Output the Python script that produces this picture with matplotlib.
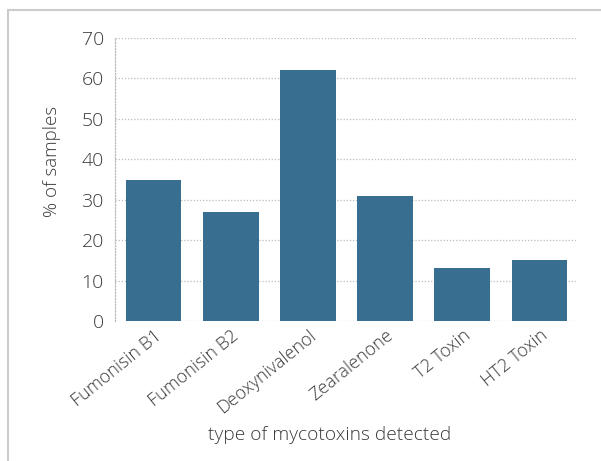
import matplotlib
matplotlib.use("Agg")
import matplotlib.pyplot as plt
from matplotlib.patches import Rectangle

categories = ["Fumonisin B1", "Fumonisin B2", "Deoxynivalenol", "Zearalenone", "T2 Toxin", "HT2 Toxin"]
values = [35, 27, 62, 31, 13, 15]
yticks = [0, 10, 20, 30, 40, 50, 60, 70]

plt.rcParams['font.family'] = ['Open Sans', 'DejaVu Sans']
plt.rcParams['font.weight'] = 'light'
text_color = "#3a3a3a"

fig = plt.figure(figsize=(6.01, 4.61), dpi=100)
ax = fig.add_axes([115/601, 1 - 321/461, (578-115)/601, (321-38)/461])

x = list(range(len(categories)))
ax.bar(x, values, width=0.72, color="#386e8f", zorder=3)
ax.set_xlim(-0.5, len(categories) - 0.5)
ax.set_ylim(0, 70)
ax.set_yticks(yticks)
ax.set_yticklabels([str(v) for v in yticks], fontsize=14, color=text_color, fontweight='light')
ax.set_xticks(x)
ax.set_xticklabels(categories, rotation=39, ha="right", rotation_mode="anchor",
                   fontsize=13, color=text_color, fontweight='light')
ax.tick_params(axis="y", length=0, pad=8)
ax.tick_params(axis="x", length=0, pad=4)
ax.grid(axis="y", linestyle=(0, (1, 1.5)), color="#bbbbbb", linewidth=0.9, zorder=0)
for s in ["top", "right", "bottom"]:
    ax.spines[s].set_visible(False)
ax.spines["left"].set_linestyle((0, (1, 1.5)))
ax.spines["left"].set_color("#bbbbbb")
ax.spines["left"].set_linewidth(0.9)

fig.text(52/601, 1 - 161/461, "% of samples", rotation=90, ha="center", va="center",
         fontsize=13.5, color=text_color, fontweight='light')
fig.text(330/601, 1 - 435/461, "type of mycotoxins detected", ha="center", va="center",
         fontsize=13.8, color=text_color, fontweight='light')

border = Rectangle((8/601, -0.1), 1.2, 1 - 10/461 + 0.1, transform=fig.transFigure,
                   fill=False, edgecolor="#cccccc", linewidth=1.5, clip_on=False)
fig.patches.append(border)

fig.savefig("out.png", dpi=100)
